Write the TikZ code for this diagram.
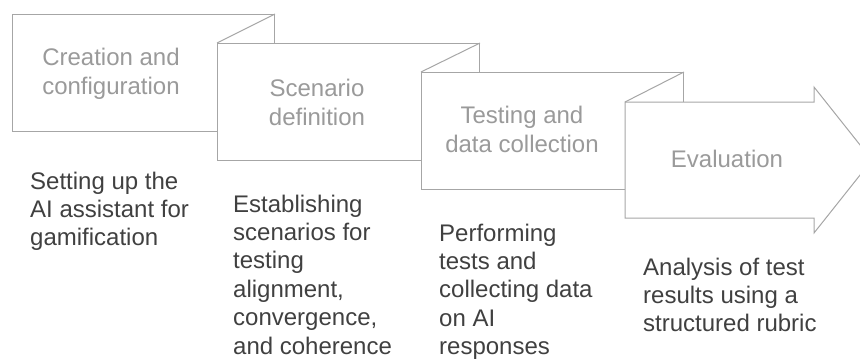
\documentclass[tikz,border=0pt]{standalone}
\usepackage{fontspec}
\setmainfont{Liberation Sans}
\definecolor{edgec}{HTML}{A6A6A6}
\definecolor{titlec}{HTML}{9A9A9A}
\definecolor{descc}{HTML}{404040}
\newcommand{\tl}[1]{\begin{tabular}[t]{@{}c@{}}#1\end{tabular}}
\newcommand{\dl}[1]{\begin{tabular}[t]{@{}l@{}}#1\end{tabular}}
\begin{document}
\begin{tikzpicture}[x=1pt,y=-1pt,
  stepbox/.style={draw=edgec, fill=white, line width=1pt, anchor=north west, inner sep=0pt, minimum width=262pt},
  fold/.style={draw=edgec, line width=1pt},
  title/.style={text=titlec, font=\fontsize{24}{29}\selectfont, anchor=base, inner sep=0pt},
  desc/.style={text=descc, font=\fontsize{24}{28.4}\selectfont, anchor=base west, inner sep=0pt}]
\useasboundingbox (0,0) rectangle (860,359);
\clip (0,0) rectangle (860,359);

\node[stepbox, minimum height=117pt] (b1) at (12,14) {};
\node[stepbox, minimum height=117pt] (b2) at (217,43) {};
\draw[fold] (b1.north east) -- (b2.north west);
\node[stepbox, minimum height=117pt] (b3) at (421,72) {};
\draw[fold] (b2.north east) -- (b3.north west);

\coordinate (a1) at (625,102);
\coordinate (a2) at (814,102);
\coordinate (a3) at (814,87);
\coordinate (a4) at (872,160);
\coordinate (a5) at (814,233);
\coordinate (a6) at (814,218);
\coordinate (a7) at (625,218);
\filldraw[fold, fill=white] (a1) -- (a2) -- (a3) -- (a4) -- (a5) -- (a6) -- (a7) -- cycle;
\draw[fold] (b3.north east) -- (a1);

\node[title] (t1) at (111,65) {\tl{Creation and\\configuration}};
\node[title] (t2) at (317,96) {\tl{Scenario\\definition}};
\node[title] (t3) at (522,123) {\tl{Testing and\\data collection}};
\node[title] (t4) at (727,167) {Evaluation};

\node[desc] (d1) at (30,189) {\dl{Setting up the\\AI assistant for\\gamification}};
\node[desc] (d2) at (233,212) {\dl{Establishing\\scenarios for\\testing\\alignment,\\convergence,\\and coherence}};
\node[desc] (d3) at (439,241) {\dl{Performing\\tests and\\collecting data\\on AI\\responses}};
\node[desc] (d4) at (643,275) {\dl{Analysis of test\\results using a\\structured rubric}};
\end{tikzpicture}
\end{document}
